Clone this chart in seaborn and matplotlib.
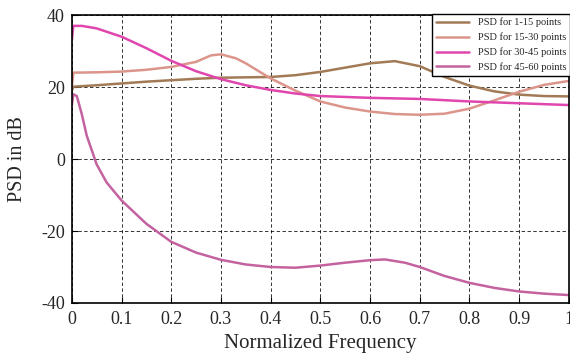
import matplotlib
matplotlib.use("Agg")
import matplotlib.pyplot as plt
import seaborn as sns
import pandas as pd

# Values
freq_1 = [0.0, 0.003, 0.05, 0.1, 0.15, 0.2, 0.25, 0.3, 0.35, 0.4, 0.45, 0.5, 0.55,
          0.6, 0.65, 0.7, 0.75, 0.8, 0.85, 0.9, 0.95, 1.0]
psd_1 = [19.0, 20.1, 20.5, 21.0, 21.5, 21.9, 22.3, 22.6, 22.7, 22.8, 23.3, 24.2, 25.4,
         26.6, 27.2, 25.8, 22.8, 20.4, 18.8, 17.9, 17.5, 17.4]

freq_2 = [0.0, 0.003, 0.05, 0.1, 0.15, 0.2, 0.25, 0.28, 0.3, 0.33, 0.35, 0.4, 0.45, 0.5,
          0.55, 0.6, 0.65, 0.7, 0.75, 0.8, 0.85, 0.9, 0.95, 1.0]
psd_2 = [20.0, 24.0, 24.1, 24.3, 24.8, 25.6, 27.0, 28.8, 29.1, 28.0, 26.6, 22.4, 19.0, 16.0,
         14.3, 13.2, 12.5, 12.3, 12.6, 14.0, 16.3, 18.7, 20.6, 21.7]

freq_3 = [0.0, 0.003, 0.02, 0.05, 0.1, 0.15, 0.2, 0.25, 0.3, 0.35, 0.4, 0.45, 0.5,
          0.6, 0.7, 0.8, 0.9, 1.0]
psd_3 = [33.0, 37.0, 37.0, 36.3, 34.0, 30.8, 27.3, 24.4, 22.2, 20.5, 19.2, 18.2, 17.5,
         17.0, 16.7, 16.0, 15.5, 15.0]

freq_4 = [0.0, 0.003, 0.01, 0.02, 0.03, 0.04, 0.05, 0.07, 0.1, 0.15, 0.2, 0.25, 0.3,
          0.35, 0.4, 0.45, 0.5, 0.55, 0.6, 0.63, 0.67, 0.7, 0.75, 0.8, 0.85, 0.9, 0.95, 1.0]
psd_4 = [15.0, 18.0, 17.5, 12.5, 6.5, 2.5, -1.5, -6.5, -11.5, -18.0, -23.0, -26.0, -28.0,
         -29.3, -30.0, -30.2, -29.6, -28.8, -28.1, -27.9, -28.8, -30.0, -32.5, -34.4,
         -35.8, -36.8, -37.4, -37.8]

labels = ["PSD for 1-15 points", "PSD for 15-30 points",
          "PSD for 30-45 points", "PSD for 45-60 points"]
colors = ["#a27a55", "#dc958a", "#e046ad", "#c462a0"]

frames = []
for lab, f, p in zip(labels, [freq_1, freq_2, freq_3, freq_4],
                     [psd_1, psd_2, psd_3, psd_4]):
    frames.append(pd.DataFrame({"freq": f, "psd": p, "series": lab}))
df = pd.concat(frames, ignore_index=True)

sns.set_style("ticks")
plt.rcParams["font.family"] = ["Liberation Serif", "DejaVu Serif"]
plt.rcParams["axes.unicode_minus"] = False

fig = plt.figure(figsize=(5.7, 3.59), dpi=100)
ax = fig.add_axes([0.126, 0.156, 0.872, 0.802])

sns.lineplot(data=df, x="freq", y="psd", hue="series", hue_order=labels,
             palette=colors, sort=False, linewidth=1.8, ax=ax)

ax.set_xlim(0, 1)
ax.set_ylim(-40, 40)
ax.set_xticks([i / 10 for i in range(11)])
ax.set_xticklabels(["0", "0.1", "0.2", "0.3", "0.4", "0.5", "0.6", "0.7", "0.8", "0.9", "1"])
ax.set_yticks([-40, -20, 0, 20, 40])
ax.grid(True, color="black", linestyle=(0, (3.5, 2.5)), linewidth=0.7, alpha=0.8)
ax.tick_params(direction="in", length=4, labelsize=13, color="black")
ax.tick_params(axis="x", pad=6)
ax.tick_params(axis="y", pad=5)
for s in ax.spines.values():
    s.set_color("black")
    s.set_linewidth(1.2)
ax.set_xlabel("Normalized Frequency", fontsize=15, labelpad=4)
ax.set_ylabel("PSD in dB", fontsize=14.5, labelpad=10)

leg = ax.legend(loc="upper right", fontsize=7.5, frameon=True, fancybox=False,
                edgecolor="black", framealpha=1, borderaxespad=-0.15,
                handlelength=3.2, labelspacing=0.5, borderpad=0.4)
leg.get_frame().set_linewidth(1.0)

fig.savefig("out.png", dpi=100)
